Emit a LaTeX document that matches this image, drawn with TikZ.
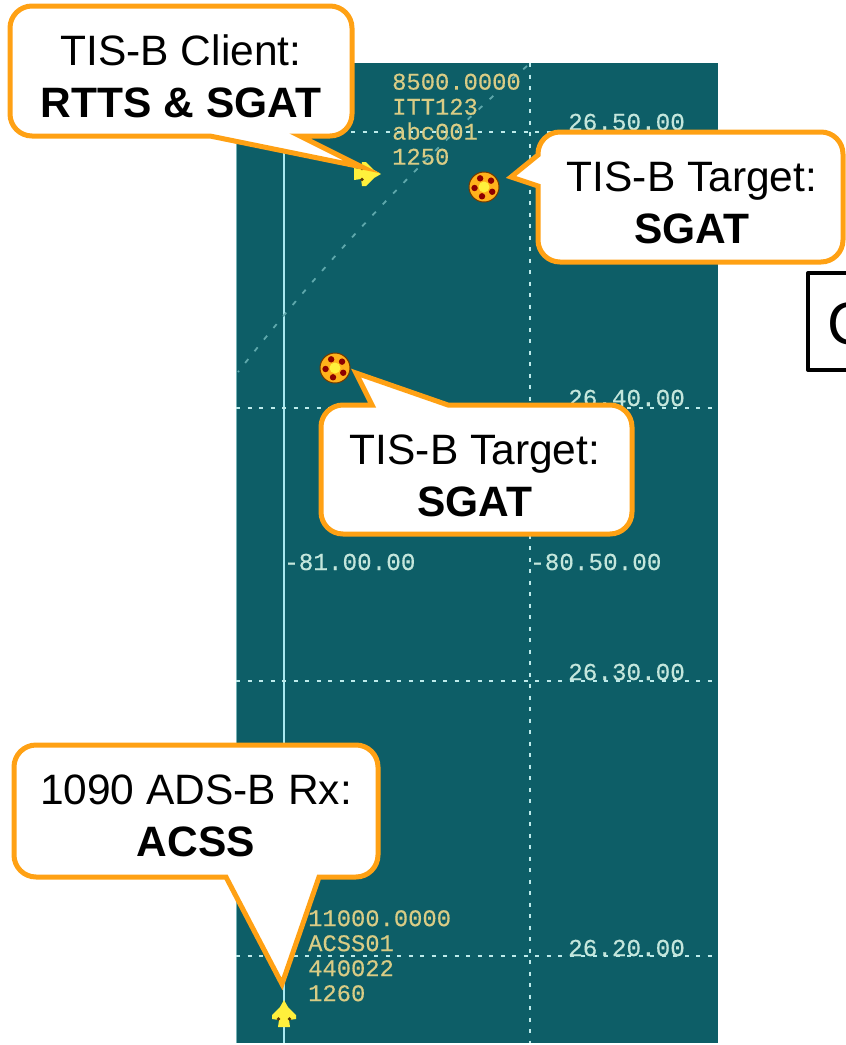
\documentclass[tikz,border=0pt]{standalone}
\usepackage{fontspec}
\setmainfont{Liberation Sans}
\newfontfamily\radarfont[FakeBold=0.4]{Liberation Mono}
\definecolor{radarbg}{HTML}{0D5E67}
\definecolor{gridc}{HTML}{BDEBEB}
\definecolor{axisc}{HTML}{A8E9F0}
\definecolor{trackc}{HTML}{5FA8AC}
\definecolor{scalec}{HTML}{C4E6DC}
\definecolor{datac}{HTML}{D9CC85}
\definecolor{orangec}{HTML}{FFA114}
\definecolor{planec}{HTML}{FFF03C}
\tikzset{
  x=1pt,y=-1pt,
  gridline/.style={gridc,line width=2pt,dash pattern=on 4pt off 7.5pt},
  axisline/.style={axisc,line width=2pt},
  trackline/.style={trackc,line width=1.8pt,dash pattern=on 5pt off 10pt},
  scalelabel/.style={text=scalec,font=\radarfont\fontsize{24.3}{24.3}\selectfont,anchor=base west,inner sep=0pt},
  datalabel/.style={text=datac,font=\radarfont\fontsize{23.8}{25}\selectfont,anchor=north west,inner sep=0pt,align=left},
  calloutbox/.style={draw=orangec,fill=white,line width=5pt,line join=miter,miter limit=30},
  callouttext/.style={align=center,inner sep=0pt,text=black,font=\fontsize{42.5}{52}\selectfont},
  pics/planeicon/.style={code={
    \fill[planec]
      (13,0) -- (6,-4) -- (-2,-12) -- (-6,-12) -- (-7,-5) -- (-14,-6) -- (-14,6) -- (-7,5) -- (-6,12) -- (-2,12) -- (6,4) -- cycle;
    \fill[black!65!orangec] (-6,-5.5) circle (1.8pt) (-6,5.5) circle (1.8pt);
  }},
  pics/targeticon/.style={code={
    \fill[orange!55!planec,draw=black!55!orange,line width=1pt] (0,0) circle (15pt);
    \foreach \a in {30,102,174,246,318}{
      \fill[red!55!black] (\a:9.5) circle (3.2pt);
    }
    \fill[planec] (0,0) circle (5.5pt);
  }},
}
\begin{document}
\begin{tikzpicture}
\useasboundingbox (0,0) rectangle (846,1045);
% radar panel
\fill[radarbg] (236,63) rectangle (718,1043);
\draw[gridc,line width=.6pt,opacity=.6] (236,63) -- (236,1043);
\draw[axisline] (284,63) -- (284,1043);
\draw[gridline] (530,63) -- (530,1043);
\foreach \yy in {132,408,681,956}{
  \draw[gridline] (236,\yy) -- (718,\yy);
}
\draw[trackline] (527,66) .. controls (430,150) and (330,255) .. (238,372);
% scale labels
\node[scalelabel] (lat50) at (568,130) {26.50.00};
\node[scalelabel] (lat40) at (568,406) {26.40.00};
\node[scalelabel] (lat30) at (568,680) {26.30.00};
\node[scalelabel] (lat20) at (568,956) {26.20.00};
\node[scalelabel] (lon81) at (284,570) {-81.00.00};
\node[scalelabel] (lon80) at (530,570) {-80.50.00};
% track data
\node[datalabel] (dataA) at (392,73.5) {8500.0000\\ITT123\\abc001\\1250};
\node[datalabel] (dataB) at (308,910) {11000.0000\\ACSS01\\440022\\1260};
% icons
\pic at (368,174) {planeicon};
\pic[rotate=90] at (284,1013) {planeicon};
\pic at (484,187) {targeticon};
\pic at (335,368) {targeticon};
% callouts
\draw[calloutbox] (180,6) [rounded corners=22pt] -- (352,6) -- (352,136) [sharp corners] -- (300,136) -- (362,167) -- (210,136) [rounded corners=22pt] -- (10,136) -- (10,6) -- cycle;
\draw[calloutbox] (690,132) [rounded corners=22pt] -- (843,132) -- (843,262) -- (538,262) [sharp corners] -- (538,186) -- (511,177) -- (538,155) [rounded corners=22pt] -- (538,132) -- cycle;
\draw[calloutbox] (475,405) [rounded corners=22pt] -- (632,405) -- (632,534) -- (321,534) -- (321,405) [sharp corners] -- (372,405) -- (356,373) -- (448,405) [rounded corners=22pt] -- cycle;
\draw[calloutbox] (196,745) [rounded corners=22pt] -- (378,745) -- (378,877) [sharp corners] -- (319,877) -- (282,984) -- (226,877) [rounded corners=22pt] -- (14,877) -- (14,745) -- cycle;
\node[callouttext] (clientText) at (181,76) {TIS-B Client:\\\textbf{RTTS \& SGAT}};
\node[callouttext] (targetTextA) at (692,203) {TIS-B Target:\\\textbf{SGAT}};
\node[callouttext] (targetTextB) at (475,476) {TIS-B Target:\\\textbf{SGAT}};
\node[callouttext] (rxText) at (196,816) {1090 ADS-B Rx:\\\textbf{ACSS}};
% clipped box at the right edge
\begin{scope}
\clip (0,0) rectangle (846,1045);
\draw[black,line width=4pt,line join=round] (900,273) -- (808,273) -- (808,370) -- (900,370);
\node[anchor=base west,inner sep=0pt,font=\fontsize{60}{60}\selectfont] (partial) at (827,344) {C};
\end{scope}
\end{tikzpicture}
\end{document}
